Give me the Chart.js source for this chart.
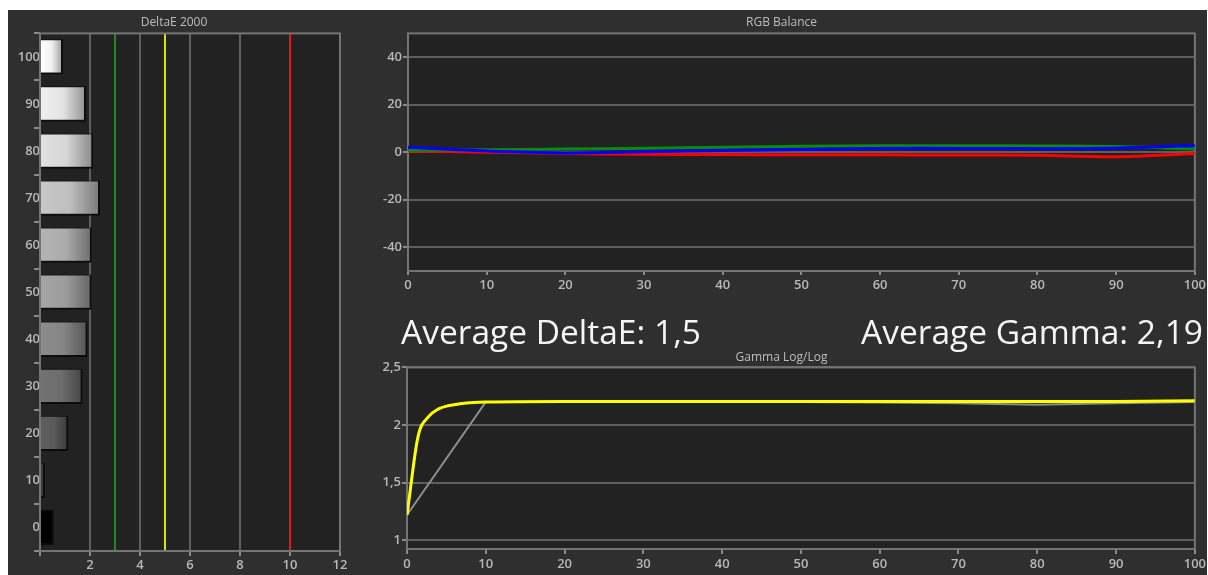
<!DOCTYPE html>
<html>
<head>
<meta charset="utf-8">
<script src="https://cdn.jsdelivr.net/npm/chart.js@4.4.1/dist/chart.umd.min.js"></script>
<style>
body { margin:0; background:#fff; width:1208px; height:575px; overflow:hidden; position:relative; font-family:"Open Sans", sans-serif; }
#panel { position:absolute; left:8px; top:10px; width:1199px; height:565px; background:#2f2f2f; }
.box { position:absolute; }
.big { position:absolute; color:#f5f5f5; font-size:33.5px; line-height:33.5px; white-space:nowrap; }
</style>
</head>
<body>
<div id="panel"></div>
<div class="box" style="left:8px;top:10px;width:342px;height:565px"><canvas id="deltaChart"></canvas></div>
<div class="box" style="left:368px;top:10px;width:840px;height:290px"><canvas id="rgbChart"></canvas></div>
<div class="box" style="left:368px;top:345px;width:840px;height:230px"><canvas id="gammaChart"></canvas></div>
<div class="big" style="left:401px;top:315px">Average DeltaE: 1,5</div>
<div class="big" style="left:861px;top:315px">Average Gamma: 2,19</div>
<script>
// DeltaE 2000 per grey level
const greyLevels = ['100', '90', '80', '70', '60', '50', '40', '30', '20', '10', '0'];
const deltaE = [0.92, 1.84, 2.13, 2.4, 2.07, 2.06, 1.9, 1.7, 1.13, 0.2, 0.55];
const deltaLimits = [3, 5, 10];

// RGB balance
const rgbSteps = [0, 10, 20, 30, 40, 50, 60, 70, 80, 90, 100];
const rgbRed = [0.5, 0, -0.5, -0.9, -1.0, -1.1, -1.1, -1.2, -1.3, -1.9, -0.5];
const rgbGreen = [0.8, 1.0, 1.3, 1.7, 2.1, 2.5, 2.7, 2.7, 2.6, 2.4, 1.3];
const rgbBlue = [2.1, 0.5, -0.3, 0.2, 0.7, 1.1, 1.6, 1.6, 1.5, 1.8, 2.8];
const rgbTicks = [-40, -20, 0, 20, 40];

// Gamma log/log
const gammaSteps = [0, 1.4, 2.7, 4, 5.2, 6.7, 8.5, 10, 20, 30, 40, 50, 60, 70, 80, 90, 100];
const gammaMeasured = [1.22, 1.9, 2.07, 2.14, 2.167, 2.184, 2.196, 2.2, 2.205, 2.205, 2.205, 2.205, 2.205, 2.205, 2.205, 2.205, 2.21];
const gammaRefSteps = [0, 10, 20, 30, 40, 50, 60, 70, 80, 90, 100];
const gammaRef = [1.22, 2.2, 2.2, 2.2, 2.2, 2.2, 2.195, 2.19, 2.175, 2.19, 2.2];
const gammaTicks = [1, 1.5, 2, 2.5];

// bar shades, top (100) to bottom (0)
const barShades = [255, 240, 225, 200, 180, 165, 140, 115, 95, 60, 0];

Chart.defaults.font.family = '"Open Sans", sans-serif';
Chart.defaults.font.size = 13;
Chart.defaults.font.weight = '600';
Chart.defaults.color = '#b8b8b8';

const gridGrey = '#5e5e5e';

const framePlugin = {
    id: 'frame',
    beforeDraw(chart) {
        const {ctx, chartArea: a} = chart;
        ctx.save();
        ctx.fillStyle = '#222222';
        ctx.fillRect(a.left, a.top, a.right - a.left, a.bottom - a.top);
        ctx.restore();
    },
    beforeDatasetsDraw(chart) {
        const {ctx, chartArea: a} = chart;
        ctx.save();
        ctx.strokeStyle = '#747474';
        ctx.lineWidth = 2;
        ctx.strokeRect(a.left, a.top, a.right - a.left, a.bottom - a.top);
        ctx.restore();
    }
};

function titleOpts(text, top, bottom) {
    return {
        display: true,
        text: text,
        color: '#bdbdbd',
        font: { size: 12, weight: 'normal' },
        padding: { top: top, bottom: bottom }
    };
}

function comma(v) {
    return String(v).replace('.', ',');
}

function limitColor(value) {
    if (value === deltaLimits[0]) return '#1f8a1f';
    if (value === deltaLimits[1]) return '#e0e000';
    if (value === deltaLimits[2]) return '#e01818';
    return value % 2 === 0 ? gridGrey : 'rgba(0,0,0,0)';
}

new Chart(document.getElementById('deltaChart'), {
    type: 'bar',
    plugins: [framePlugin],
    data: {
        labels: greyLevels,
        datasets: [{
            data: deltaE,
            backgroundColor(c) {
                const chart = c.chart;
                const a = chart.chartArea;
                const shade = barShades[c.dataIndex];
                if (!a || !chart.scales.x) return `rgb(${shade},${shade},${shade})`;
                const end = chart.scales.x.getPixelForValue(deltaE[c.dataIndex]);
                const g = chart.ctx.createLinearGradient(a.left, 0, end, 0);
                const mid = Math.round(shade * 0.95), dark = Math.round(shade * 0.6);
                g.addColorStop(0, `rgb(${shade},${shade},${shade})`);
                g.addColorStop(0.5, `rgb(${mid},${mid},${mid})`);
                g.addColorStop(1, `rgb(${dark},${dark},${dark})`);
                return g;
            },
            borderColor: '#0c0c0c',
            borderWidth: { top: 1, right: 2, bottom: 2, left: 0 },
            borderSkipped: false,
            barPercentage: 0.75,
            categoryPercentage: 1
        }]
    },
    options: {
        indexAxis: 'y',
        animation: false,
        responsive: true,
        maintainAspectRatio: false,
        layout: { padding: { left: 0, right: 10, top: 0, bottom: 0 } },
        plugins: {
            legend: { display: false },
            tooltip: { enabled: false },
            title: titleOpts('DeltaE 2000', 5, 4)
        },
        scales: {
            x: {
                type: 'linear',
                min: 0,
                max: 12,
                afterFit(s) { s.height = 24; },
                ticks: {
                    stepSize: 1,
                    padding: 1,
                    callback: v => (v % 2 === 0 && v !== 0) ? v : ''
                },
                grid: {
                    color: c => limitColor(c.tick.value),
                    tickColor: c => c.tick.value % 2 === 0 ? '#8a8a8a' : 'rgba(0,0,0,0)',
                    lineWidth: 2,
                    tickLength: 5
                },
                border: { display: false }
            },
            y: {
                afterFit(s) { s.width = 32; },
                ticks: { padding: -6 },
                grid: {
                    drawOnChartArea: false,
                    tickColor: '#8a8a8a',
                    lineWidth: 2,
                    tickLength: 6
                },
                border: { display: false }
            }
        }
    }
});

function lineSet(xs, values, color, width) {
    return {
        data: values.map((v, k) => ({ x: xs[k], y: v })),
        borderColor: color,
        borderWidth: width,
        pointRadius: 0,
        tension: 0.35,
        fill: false
    };
}

new Chart(document.getElementById('rgbChart'), {
    type: 'line',
    plugins: [framePlugin],
    data: {
        datasets: [
            lineSet(rgbSteps, rgbBlue, '#0000ff', 3),
            lineSet(rgbSteps, rgbGreen, '#0c8a0c', 3),
            lineSet(rgbSteps, rgbRed, '#ff0000', 3)
        ]
    },
    options: {
        animation: false,
        responsive: true,
        maintainAspectRatio: false,
        layout: { padding: { left: 0, right: 13, top: 0, bottom: 0 } },
        plugins: {
            legend: { display: false },
            tooltip: { enabled: false },
            title: titleOpts('RGB Balance', 5, 4)
        },
        scales: {
            x: {
                type: 'linear',
                min: 0,
                max: 100,
                afterFit(s) { s.height = 29; },
                ticks: { stepSize: 10, padding: 2 },
                grid: { drawOnChartArea: false, tickColor: '#8a8a8a', lineWidth: 2, tickLength: 4 },
                border: { display: false }
            },
            y: {
                min: -50,
                max: 50,
                afterFit(s) { s.width = 40; },
                afterBuildTicks(s) { s.ticks = rgbTicks.map(v => ({ value: v })); },
                ticks: { padding: 1 },
                grid: { color: gridGrey, tickColor: '#8a8a8a', lineWidth: 2, tickLength: 5 },
                border: { display: false }
            }
        }
    }
});

new Chart(document.getElementById('gammaChart'), {
    type: 'line',
    plugins: [framePlugin],
    data: {
        datasets: [
            {
                data: gammaSteps.map((x, i) => ({ x: x, y: gammaMeasured[i] })),
                borderColor: '#ffff00',
                borderWidth: 3,
                pointRadius: 0,
                cubicInterpolationMode: 'monotone'
            },
            {
                data: gammaRefSteps.map((x, i) => ({ x: x, y: gammaRef[i] })),
                borderColor: '#8e8e8e',
                borderWidth: 2,
                pointRadius: 0,
                tension: 0
            }
        ]
    },
    options: {
        animation: false,
        responsive: true,
        maintainAspectRatio: false,
        layout: { padding: { left: 0, right: 13, top: 0, bottom: 0 } },
        plugins: {
            legend: { display: false },
            tooltip: { enabled: false },
            title: titleOpts('Gamma Log/Log', 5, 3)
        },
        scales: {
            x: {
                type: 'linear',
                min: 0,
                max: 100,
                afterFit(s) { s.height = 26; },
                ticks: { stepSize: 10, padding: 2 },
                grid: { drawOnChartArea: false, tickColor: '#8a8a8a', lineWidth: 2, tickLength: 5 },
                border: { display: false }
            },
            y: {
                min: 0.925,
                max: 2.5,
                afterFit(s) { s.width = 39; },
                afterBuildTicks(s) { s.ticks = gammaTicks.map(v => ({ value: v })); },
                ticks: { padding: 1, callback: v => comma(v) },
                grid: { color: gridGrey, tickColor: '#8a8a8a', lineWidth: 2, tickLength: 5 },
                border: { display: false }
            }
        }
    }
});
</script>
</body>
</html>
